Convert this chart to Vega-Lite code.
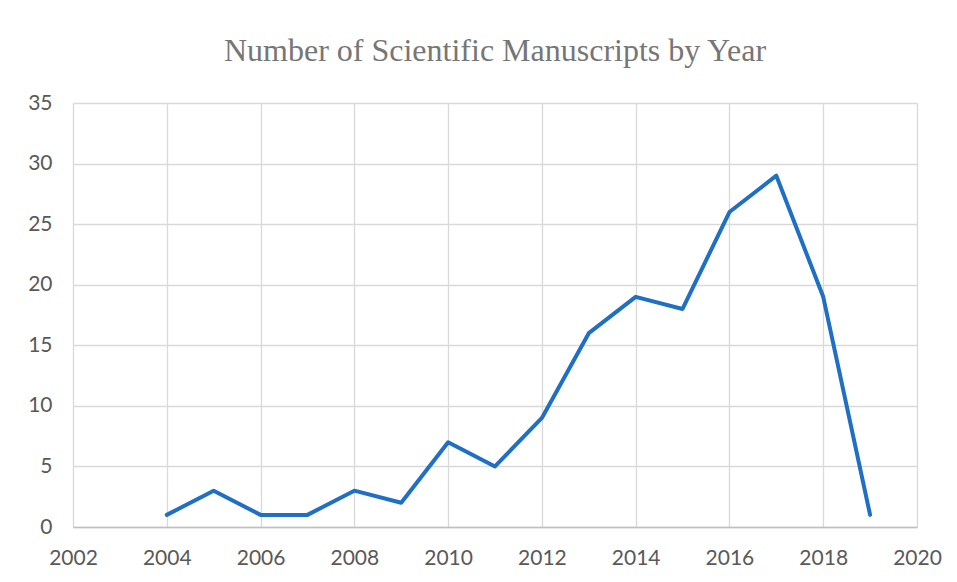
{
  "$schema": "https://vega.github.io/schema/vega-lite/v6.json",
  "autosize": "none",
  "width": 844,
  "height": 424,
  "padding": {"left": 73, "top": 103, "right": 40, "bottom": 55},
  "background": "white",
  "title": {
    "text": "Number of Scientific Manuscripts by Year",
    "font": "Liberation Serif",
    "fontSize": 32,
    "fontWeight": "normal",
    "color": "#767676",
    "frame": "group",
    "anchor": "middle",
    "baseline": "alphabetic",
    "offset": -1
  },
  "config": {
    "view": {"stroke": null},
    "axis": {
      "labelFont": "Lato",
      "labelFontSize": 21,
      "labelColor": "#595959",
      "gridColor": "#d9d9d9",
      "gridWidth": 1.3,
      "ticks": false,
      "domain": false,
      "title": null
    }
  },
  "data": {
    "values": [
      {"year": 2004, "count": 1},
      {"year": 2005, "count": 3},
      {"year": 2006, "count": 1},
      {"year": 2007, "count": 1},
      {"year": 2008, "count": 3},
      {"year": 2009, "count": 2},
      {"year": 2010, "count": 7},
      {"year": 2011, "count": 5},
      {"year": 2012, "count": 9},
      {"year": 2013, "count": 16},
      {"year": 2014, "count": 19},
      {"year": 2015, "count": 18},
      {"year": 2016, "count": 26},
      {"year": 2017, "count": 29},
      {"year": 2018, "count": 19},
      {"year": 2019, "count": 1}
    ]
  },
  "mark": {"type": "line", "color": "#1f70c4", "strokeWidth": 4, "strokeCap": "round", "strokeJoin": "round"},
  "encoding": {
    "x": {
      "field": "year",
      "type": "quantitative",
      "scale": {"domain": [2002, 2020], "nice": false, "zero": false},
      "axis": {
        "values": [2002, 2004, 2006, 2008, 2010, 2012, 2014, 2016, 2018, 2020],
        "format": "d",
        "labelPadding": 20,
        "domain": true,
        "domainColor": "#bfbfbf",
        "domainWidth": 1.5,
        "labelFlush": false
      }
    },
    "y": {
      "field": "count",
      "type": "quantitative",
      "scale": {"domain": [0, 35], "nice": false},
      "axis": {
        "values": [0, 5, 10, 15, 20, 25, 30, 35],
        "labelPadding": 21
      }
    }
  }
}
